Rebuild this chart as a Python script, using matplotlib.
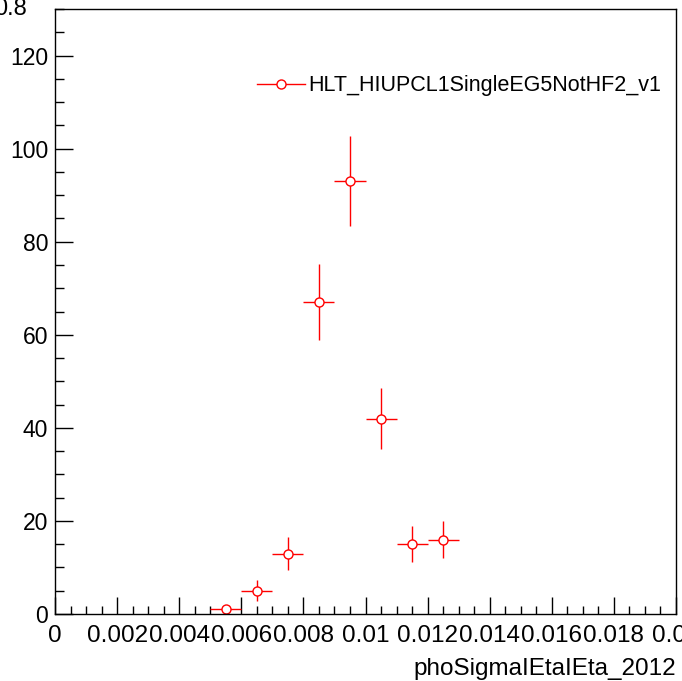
import numpy as np
import matplotlib.pyplot as plt
from matplotlib.lines import Line2D
from matplotlib.ticker import MultipleLocator

plt.rcParams['font.family'] = ['Liberation Sans', 'DejaVu Sans']

# bin centres and counts
bin_centers = [0.0055, 0.0065, 0.0075, 0.0085, 0.0095, 0.0105, 0.0115, 0.0125]
counts = [1, 5, 13, 67, 93, 42, 15, 16]
bin_width = 0.001
legend_label = 'HLT_HIUPCL1SingleEG5NotHF2_v1'
x_title = 'phoSigmaIEtaIEta_2012'

y_err = np.sqrt(counts)
x_err = bin_width / 2

fig = plt.figure(figsize=(6.82, 6.81), dpi=100)
ax = fig.add_axes([55/682, 67/681, 621/682, 605/681])

ax.errorbar(bin_centers, counts, xerr=x_err, yerr=y_err, fmt='o',
            color='red', ecolor='red', elinewidth=1, capsize=0,
            markersize=6.5, markerfacecolor='white', markeredgecolor='red',
            markeredgewidth=1)

ax.set_xlim(0, 0.02)
ax.set_ylim(0, 130)

ax.xaxis.set_minor_locator(MultipleLocator(0.0005))
ax.yaxis.set_major_locator(MultipleLocator(20))
ax.yaxis.set_minor_locator(MultipleLocator(5))

xt = np.arange(0, 0.0201, 0.002)
ax.set_xticks(xt)
ax.set_xticklabels(['0'] + [f'{v:g}' for v in xt[1:]])

ax.tick_params(axis='both', which='both', direction='in', top=False, right=False,
               width=1)
ax.tick_params(axis='x', which='major', length=12.5, pad=8, labelsize=17.5)
ax.tick_params(axis='x', which='minor', length=6)
ax.tick_params(axis='y', which='major', length=13, pad=5, labelsize=16.5)
ax.tick_params(axis='y', which='minor', length=6.5)

for s in ax.spines.values():
    s.set_linewidth(1)

ax.set_xlabel(x_title, fontsize=17.5, loc='right', labelpad=8)

handle = Line2D([], [], color='red', marker='o', markersize=6.5,
                markerfacecolor='white', markeredgecolor='red', linewidth=1)
ax.legend([handle], [legend_label], frameon=False, fontsize=15.5,
          loc='center left', bbox_to_anchor=((257 - 55)/621, 1 - (86 - 9)/605),
          handlelength=2.25, handletextpad=0.15, borderaxespad=0, borderpad=0)

fig.text(27/682, 1 - 15/681, '0.8', fontsize=17, ha='right', va='baseline')

fig.savefig('out.png', dpi=100)
